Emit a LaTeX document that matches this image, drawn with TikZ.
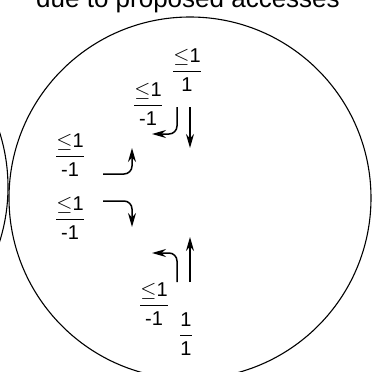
\documentclass[tikz,border=0pt]{standalone}
\usepackage{fontspec}
\setmainfont{Liberation Sans}
\usetikzlibrary{arrows.meta}
\newcommand{\frc}[2]{$\displaystyle\frac{\mbox{#1}}{\mbox{#2}}$}
\begin{document}
\begin{tikzpicture}[x=1pt, y=-1pt, line width=1.5pt,
    >={Stealth[length=14pt, width=8pt]},
    lbl/.style={font=\fontsize{20}{23}\selectfont, inner sep=0pt},
    turn/.style={->, rounded corners=8pt}]
    \useasboundingbox (0,0) rectangle (376,372);
    \clip (0,0) rectangle (376,372);
    \node[anchor=base, font=\fontsize{26}{30}\selectfont, inner sep=0pt] (title) at (188,8) {due to proposed accesses};
    % the region and its neighbour
    \draw[line width=1.1pt] (190,198) circle (181);
    \draw[line width=1.1pt] (-173,187) circle (181);
    % counts
    \node[lbl] (ltop) at (187,70) {\frc{$\le$1}{1}};
    \node[lbl] (lup) at (148,104) {\frc{$\le$1}{-1}};
    \node[lbl] (lleft1) at (70,155) {\frc{$\le$1}{-1}};
    \node[lbl] (lleft2) at (70,218) {\frc{$\le$1}{-1}};
    \node[lbl] (ldown) at (154,304) {\frc{$\le$1}{-1}};
    \node[lbl] (lbot) at (186,334) {\frc{1}{1}};
    % accesses
    \coordinate (a1) at (190,107); \coordinate (b1) at (190,148);
    \coordinate (a2) at (177,107); \coordinate (b2) at (152,134);
    \coordinate (a3) at (103,174); \coordinate (b3) at (132,148);
    \coordinate (a4) at (103,201); \coordinate (b4) at (132,227);
    \coordinate (a5) at (190,282); \coordinate (b5) at (190,237);
    \coordinate (a6) at (177,282); \coordinate (b6) at (152,253);
    \draw[->] (a1) -- (b1);
    \draw[turn] (a2) |- (b2);
    \draw[turn] (a3) -| (b3);
    \draw[turn] (a4) -| (b4);
    \draw[->] (a5) -- (b5);
    \draw[turn] (a6) |- (b6);
\end{tikzpicture}
\end{document}
